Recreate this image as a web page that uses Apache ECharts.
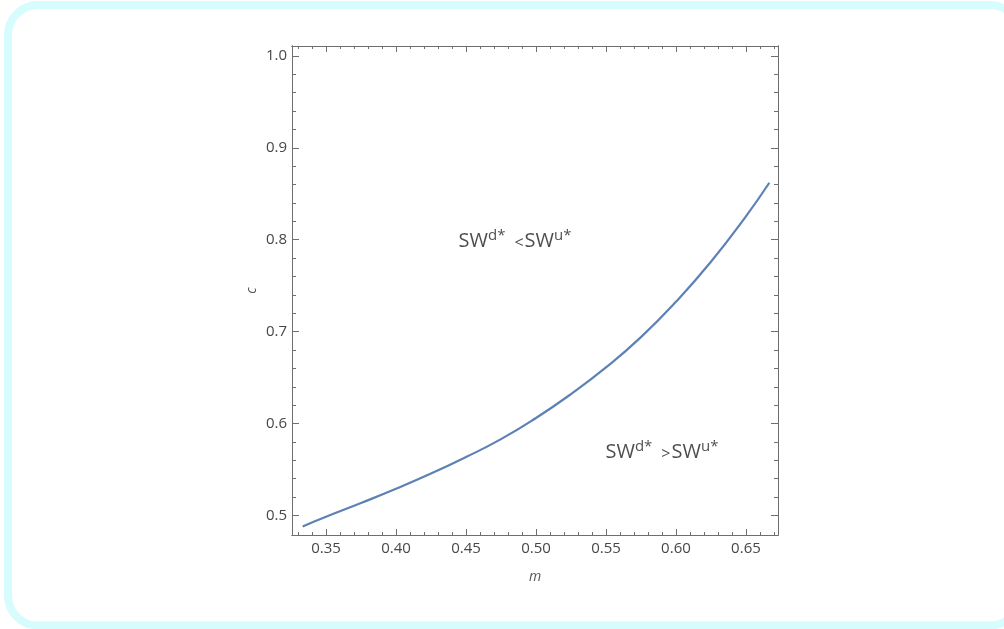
<!DOCTYPE html>
<html>
<head>
<meta charset="utf-8">
<script src="https://cdn.jsdelivr.net/npm/echarts@6/dist/echarts.min.js"></script>
<style>
  html, body { margin: 0; padding: 0; background: #fff; overflow: hidden; }
  #chart { width: 1004px; height: 629px; }
</style>
</head>
<body>
<div id="chart"></div>
<script>
// curve: m on x, c on y
const mValues = [0.3333, 0.35, 0.375, 0.40, 0.425, 0.45, 0.475, 0.50, 0.525, 0.55, 0.575, 0.60, 0.625, 0.65, 0.6667];
const cValues = [0.488, 0.4985, 0.5135, 0.529, 0.5455, 0.5635, 0.583, 0.606, 0.632, 0.661, 0.694, 0.7325, 0.776, 0.8255, 0.862];

const xMajor = [0.35, 0.40, 0.45, 0.50, 0.55, 0.60, 0.65];
const xMinor = [0.33, 0.34, 0.36, 0.37, 0.38, 0.39, 0.41, 0.42, 0.43, 0.44, 0.46, 0.47, 0.48, 0.49,
                0.51, 0.52, 0.53, 0.54, 0.56, 0.57, 0.58, 0.59, 0.61, 0.62, 0.63, 0.64, 0.66, 0.67];
const yMajor = [0.5, 0.6, 0.7, 0.8, 0.9, 1.0];
const yMinor = [0.52, 0.54, 0.56, 0.58, 0.62, 0.64, 0.66, 0.68, 0.72, 0.74, 0.76, 0.78,
                0.82, 0.84, 0.86, 0.88, 0.92, 0.94, 0.96, 0.98];

// region notes: [m, c, relation]
const notes = [
  [0.485, 0.80, '<'],
  [0.59, 0.57, '>']
];

const xRange = [0.3257, 0.6729];
const yRange = [0.4787, 1.0108];
const frameColor = '#6e6e6e';
const labelFont = { fontFamily: 'Open Sans', fontSize: 15, color: '#474747' };
const nameFont = { fontFamily: 'Open Sans', fontStyle: 'italic', fontSize: 14, color: '#555' };
const noteColor = '#1e1e1e';

function xAxisDef(pos, ticks, len, labels) {
  return {
    type: 'value', position: pos, min: xRange[0], max: xRange[1],
    axisLine: { show: true, onZero: false, lineStyle: { color: frameColor, width: 1 } },
    axisTick: { show: true, inside: true, length: len, customValues: ticks, lineStyle: { color: frameColor } },
    axisLabel: labels ? Object.assign({ show: true, margin: 6, customValues: ticks,
      formatter: v => v.toFixed(2) }, labelFont) : { show: false },
    splitLine: { show: false }
  };
}
function yAxisDef(pos, ticks, len, labels) {
  return {
    type: 'value', position: pos, min: yRange[0], max: yRange[1],
    axisLine: { show: true, onZero: false, lineStyle: { color: frameColor, width: 1 } },
    axisTick: { show: true, inside: true, length: len, customValues: ticks, lineStyle: { color: frameColor } },
    axisLabel: labels ? Object.assign({ show: true, margin: 5, customValues: ticks,
      formatter: v => v.toFixed(1) }, labelFont) : { show: false },
    splitLine: { show: false }
  };
}

const xAxes = [
  xAxisDef('bottom', xMajor, 6, true),
  xAxisDef('bottom', xMinor, 3, false),
  xAxisDef('top', xMajor, 6, false),
  xAxisDef('top', xMinor, 3, false)
];
Object.assign(xAxes[0], { name: 'm', nameLocation: 'middle', nameGap: 35, nameTextStyle: nameFont });
const yAxes = [
  yAxisDef('left', yMajor, 7, true),
  yAxisDef('left', yMinor, 4, false),
  yAxisDef('right', yMajor, 7, false),
  yAxisDef('right', yMinor, 4, false)
];
Object.assign(yAxes[0], { name: 'c', nameLocation: 'middle', nameGap: 33, nameTextStyle: nameFont });

const chart = echarts.init(document.getElementById('chart'));
chart.setOption({
  animation: false,
  graphic: [{
    type: 'rect', z: -10, silent: true,
    shape: { x: 8, y: 5, width: 1012, height: 620.5, r: 30 },
    style: { fill: '#ffffff', stroke: '#d6fcfe', lineWidth: 8 }
  }],
  grid: { left: 292, top: 46, width: 486, height: 489, containLabel: false },
  xAxis: xAxes,
  yAxis: yAxes,
  series: [{
    type: 'line',
    xAxisIndex: 0, yAxisIndex: 0,
    data: mValues.map((m, i) => [m, cValues[i]]),
    smooth: 0.5,
    showSymbol: false,
    lineStyle: { color: '#5e81b5', width: 2.2 },
    itemStyle: { color: '#5e81b5' }
  }, {
    type: 'scatter',
    xAxisIndex: 0, yAxisIndex: 0,
    symbolSize: 0,
    data: notes.map(n => [n[0], n[1]]),
    label: {
      show: true, position: 'inside', color: noteColor,
      formatter: p => '{b|SW}{s|d*}{r|' + notes[p.dataIndex][2] + '}{b|SW}{s|u*}',
      rich: {
        b: { fontFamily: 'Open Sans', fontSize: 20, color: noteColor, verticalAlign: 'bottom', lineHeight: 23 },
        s: { fontFamily: 'Open Sans', fontSize: 15, color: noteColor, verticalAlign: 'top', lineHeight: 17 },
        r: { fontFamily: 'Open Sans', fontSize: 16, color: noteColor, verticalAlign: 'bottom', lineHeight: 22,
             padding: [0, 1, 0, 9] }
      }
    }
  }]
});
</script>
</body>
</html>
